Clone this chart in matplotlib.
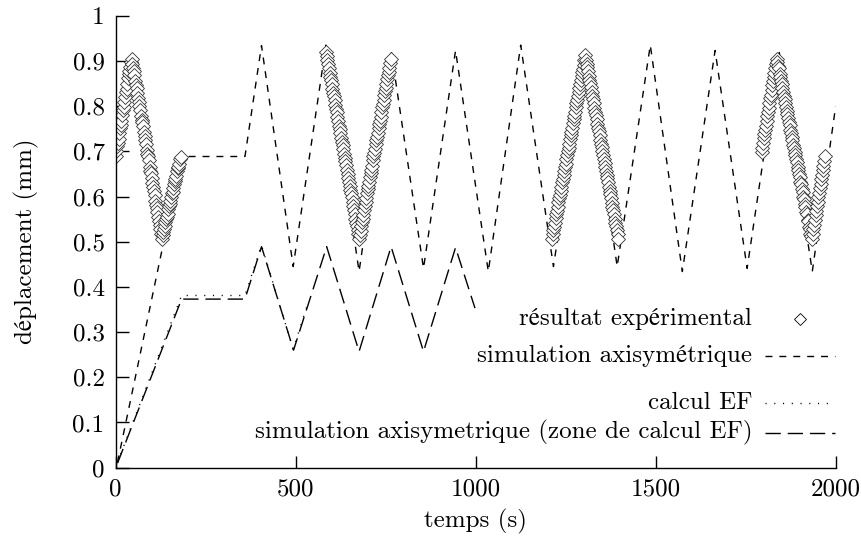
import matplotlib
matplotlib.use("Agg")
import matplotlib.pyplot as plt
from matplotlib.ticker import FuncFormatter

plt.rcParams['font.family'] = ['cmr10', 'STIXGeneral']
plt.rcParams['mathtext.fontset'] = 'cm'
plt.rcParams['axes.unicode_minus'] = False
plt.rcParams['font.size'] = 18

# simulation axisymetrique (courbe complete)
t_axi = [5, 183, 359, 405, 493, 584, 676, 765, 855, 944, 1035, 1125, 1216, 1306,
         1393, 1485, 1574, 1665, 1754, 1843, 1935, 2000]
d_axi = [0.012, 0.6885, 0.6885, 0.934, 0.445, 0.935, 0.434, 0.923, 0.441, 0.923, 0.434,
         0.935, 0.445, 0.923, 0.445, 0.935, 0.434, 0.923, 0.441, 0.920, 0.434, 0.800]

# calcul EF
t_ef = [5, 183, 359, 405, 493, 535]
d_ef = [0.012, 0.381, 0.381, 0.492, 0.262, 0.367]

# simulation axisymetrique (zone de calcul EF)
t_zone = [5, 183, 359, 405, 494, 586, 676, 765, 855, 944, 998]
d_zone = [0.010, 0.373, 0.373, 0.489, 0.260, 0.489, 0.257, 0.489, 0.257, 0.487, 0.353]

# resultat experimental : (temps, deplacement), 4 sequences de mesure
exp1 = [(0, 0.690), (2, 0.701), (4, 0.712), (6, 0.718), (8, 0.728), (10, 0.740),
        (12, 0.751), (14, 0.759), (16, 0.768), (18, 0.781), (20, 0.792), (22, 0.799),
        (24, 0.808), (26, 0.821), (28, 0.831), (30, 0.838), (32, 0.849), (34, 0.862),
        (36, 0.872), (38, 0.878), (40, 0.887), (42, 0.898), (44, 0.905), (46, 0.893),
        (48, 0.884), (50, 0.877), (52, 0.868), (54, 0.855), (56, 0.846), (58, 0.839),
        (60, 0.830), (62, 0.817), (64, 0.808), (66, 0.801), (68, 0.792), (70, 0.779),
        (72, 0.770), (74, 0.764), (76, 0.755), (78, 0.742), (80, 0.733), (82, 0.726),
        (84, 0.717), (86, 0.704), (88, 0.695), (90, 0.689), (92, 0.680), (94, 0.666),
        (96, 0.657), (98, 0.651), (100, 0.642), (102, 0.629), (104, 0.620), (106, 0.613),
        (108, 0.604), (110, 0.591), (112, 0.582), (114, 0.575), (116, 0.566), (118, 0.554),
        (120, 0.545), (122, 0.536), (124, 0.527), (126, 0.516), (128, 0.507), (130, 0.515),
        (132, 0.522), (134, 0.527), (136, 0.534), (138, 0.544), (140, 0.551), (142, 0.555),
        (144, 0.562), (146, 0.572), (148, 0.579), (150, 0.583), (152, 0.590), (154, 0.600),
        (156, 0.607), (158, 0.611), (160, 0.618), (162, 0.628), (164, 0.635), (166, 0.639),
        (168, 0.646), (170, 0.656), (172, 0.662), (174, 0.666), (176, 0.673), (178, 0.682),
        (180, 0.688)]

exp2 = [(584, 0.920), (586, 0.910), (588, 0.901), (590, 0.894), (592, 0.885), (594, 0.874),
        (596, 0.865), (598, 0.858), (600, 0.849), (602, 0.838), (604, 0.829), (606, 0.822),
        (608, 0.813), (610, 0.802), (612, 0.793), (614, 0.786), (616, 0.777), (618, 0.766),
        (620, 0.757), (622, 0.750), (624, 0.741), (626, 0.730), (628, 0.721), (630, 0.714),
        (632, 0.705), (634, 0.694), (636, 0.685), (638, 0.678), (640, 0.669), (642, 0.658),
        (644, 0.649), (646, 0.642), (648, 0.633), (650, 0.623), (652, 0.614), (654, 0.607),
        (656, 0.598), (658, 0.587), (660, 0.578), (662, 0.571), (664, 0.562), (666, 0.551),
        (668, 0.542), (670, 0.535), (672, 0.526), (674, 0.516), (676, 0.507), (678, 0.514),
        (680, 0.524), (682, 0.535), (684, 0.544), (686, 0.551), (688, 0.560), (690, 0.571),
        (692, 0.580), (694, 0.587), (696, 0.596), (698, 0.607), (700, 0.616), (702, 0.623),
        (704, 0.632), (706, 0.643), (708, 0.652), (710, 0.659), (712, 0.668), (714, 0.680),
        (716, 0.689), (718, 0.696), (720, 0.705), (722, 0.716), (724, 0.725), (726, 0.732),
        (728, 0.741), (730, 0.752), (732, 0.761), (734, 0.768), (736, 0.777), (738, 0.788),
        (740, 0.797), (742, 0.804), (744, 0.813), (746, 0.824), (748, 0.833), (750, 0.840),
        (752, 0.849), (754, 0.860), (756, 0.869), (758, 0.876), (760, 0.885), (762, 0.896),
        (764, 0.905)]

exp3 = [(1212, 0.507), (1214, 0.518), (1216, 0.526), (1218, 0.533), (1220, 0.542),
        (1222, 0.552), (1224, 0.561), (1226, 0.568), (1228, 0.577), (1230, 0.587),
        (1232, 0.596), (1234, 0.603), (1236, 0.612), (1238, 0.622), (1240, 0.631),
        (1242, 0.638), (1244, 0.647), (1246, 0.657), (1248, 0.666), (1250, 0.673),
        (1252, 0.682), (1254, 0.692), (1256, 0.701), (1258, 0.708), (1260, 0.717),
        (1262, 0.727), (1264, 0.736), (1266, 0.743), (1268, 0.752), (1270, 0.762),
        (1272, 0.771), (1274, 0.778), (1276, 0.787), (1278, 0.797), (1280, 0.806),
        (1282, 0.813), (1284, 0.822), (1286, 0.832), (1288, 0.841), (1290, 0.848),
        (1292, 0.857), (1294, 0.867), (1296, 0.876), (1298, 0.883), (1300, 0.892),
        (1302, 0.903), (1304, 0.912), (1306, 0.901), (1308, 0.893), (1310, 0.886),
        (1312, 0.877), (1314, 0.866), (1316, 0.857), (1318, 0.851), (1320, 0.842),
        (1322, 0.831), (1324, 0.822), (1326, 0.815), (1328, 0.806), (1330, 0.796),
        (1332, 0.787), (1334, 0.780), (1336, 0.771), (1338, 0.761), (1340, 0.752),
        (1342, 0.745), (1344, 0.736), (1346, 0.726), (1348, 0.717), (1350, 0.710),
        (1352, 0.701), (1354, 0.691), (1356, 0.682), (1358, 0.675), (1360, 0.666),
        (1362, 0.656), (1364, 0.647), (1366, 0.640), (1368, 0.631), (1370, 0.621),
        (1372, 0.612), (1374, 0.605), (1376, 0.596), (1378, 0.586), (1380, 0.577),
        (1382, 0.570), (1384, 0.561), (1386, 0.551), (1388, 0.542), (1390, 0.535),
        (1392, 0.526), (1394, 0.516), (1396, 0.507)]

exp4 = [(1794, 0.699), (1796, 0.708), (1798, 0.718), (1800, 0.729), (1802, 0.739),
        (1804, 0.747), (1806, 0.757), (1808, 0.768), (1810, 0.778), (1812, 0.786),
        (1814, 0.796), (1816, 0.807), (1818, 0.817), (1820, 0.825), (1822, 0.835),
        (1824, 0.846), (1826, 0.856), (1828, 0.864), (1830, 0.874), (1832, 0.885),
        (1834, 0.894), (1836, 0.905), (1838, 0.898), (1840, 0.889), (1842, 0.884),
        (1844, 0.872), (1846, 0.864), (1848, 0.856), (1850, 0.850), (1852, 0.840),
        (1854, 0.831), (1856, 0.823), (1858, 0.816), (1860, 0.807), (1862, 0.798),
        (1864, 0.790), (1866, 0.782), (1868, 0.774), (1870, 0.765), (1872, 0.758),
        (1874, 0.748), (1876, 0.741), (1878, 0.732), (1880, 0.725), (1882, 0.715),
        (1884, 0.708), (1886, 0.699), (1888, 0.692), (1890, 0.682), (1892, 0.676),
        (1894, 0.666), (1896, 0.659), (1898, 0.649), (1900, 0.643), (1902, 0.632),
        (1904, 0.627), (1906, 0.616), (1908, 0.610), (1910, 0.599), (1912, 0.594),
        (1914, 0.583), (1916, 0.577), (1918, 0.566), (1920, 0.561), (1922, 0.549),
        (1924, 0.545), (1926, 0.533), (1928, 0.528), (1930, 0.516), (1932, 0.512),
        (1934, 0.507), (1936, 0.518), (1938, 0.528), (1940, 0.538), (1942, 0.548),
        (1944, 0.558), (1946, 0.568), (1948, 0.578), (1950, 0.588), (1952, 0.598),
        (1954, 0.608), (1956, 0.618), (1958, 0.628), (1960, 0.638), (1962, 0.648),
        (1964, 0.658), (1966, 0.668), (1968, 0.679), (1970, 0.690)]

fig = plt.figure(figsize=(8.61, 5.44), dpi=100)
ax = fig.add_axes([0.1344, 0.1403, 0.8362, 0.8308])

lw = 1.0
ax.plot(t_axi, d_axi, color='black', lw=lw, linestyle=(0, (5, 5)))
ax.plot(t_ef, d_ef, color='black', lw=lw, linestyle=(0, (0.8, 5.5)))
ax.plot(t_zone, d_zone, color='black', lw=lw, linestyle=(0, (11, 5)))

for serie in [exp1, exp2, exp3, exp4]:
    tt = [p[0] for p in serie]
    dd = [p[1] for p in serie]
    ax.plot(tt, dd, linestyle='none', marker='D', markersize=7.2, markerfacecolor='white',
            markeredgecolor='#333333', markeredgewidth=0.6)

ax.set_xlim(0, 2000)
ax.set_ylim(0, 1)
ax.set_xticks([0, 500, 1000, 1500, 2000])
ax.set_yticks([0, 0.1, 0.2, 0.3, 0.4, 0.5, 0.6, 0.7, 0.8, 0.9, 1.0])
ax.yaxis.set_major_formatter(FuncFormatter(lambda v, p: '%g' % round(v, 1)))
ax.tick_params(direction='in', length=9, width=1.0, pad=8)
ax.spines['top'].set_visible(False)
ax.spines['right'].set_visible(False)
ax.spines['left'].set_linewidth(1.0)
ax.spines['bottom'].set_linewidth(1.0)
ax.set_xlabel('temps (s)', labelpad=6)
ax.set_ylabel('déplacement (mm)', labelpad=24)

# legende a la maniere de gnuplot
labels = ['résultat expérimental', 'simulation axisymétrique', 'calcul EF',
          'simulation axisymetrique (zone de calcul EF)']
key_y = [0.329, 0.247, 0.143, 0.077]
tx = 0.884
x0, x1 = 0.902, 0.999
for lab, yy in zip(labels, key_y):
    ax.text(tx, yy, lab, transform=ax.transAxes, ha='right', va='center')
ax.plot([0.951], [key_y[0]], transform=ax.transAxes, marker='D', markersize=6.5,
        markerfacecolor='white', markeredgecolor='black', markeredgewidth=0.6, clip_on=False)
ax.plot([x0, x1], [key_y[1]] * 2, transform=ax.transAxes, color='black', lw=lw,
        linestyle=(0, (5, 5)), clip_on=False)
ax.plot([x0, x1], [key_y[2]] * 2, transform=ax.transAxes, color='black', lw=lw,
        linestyle=(0, (0.8, 5.5)), clip_on=False)
ax.plot([x0, x1], [key_y[3]] * 2, transform=ax.transAxes, color='black', lw=lw,
        linestyle=(0, (11, 5)), clip_on=False)

fig.savefig('out.png', dpi=100)
